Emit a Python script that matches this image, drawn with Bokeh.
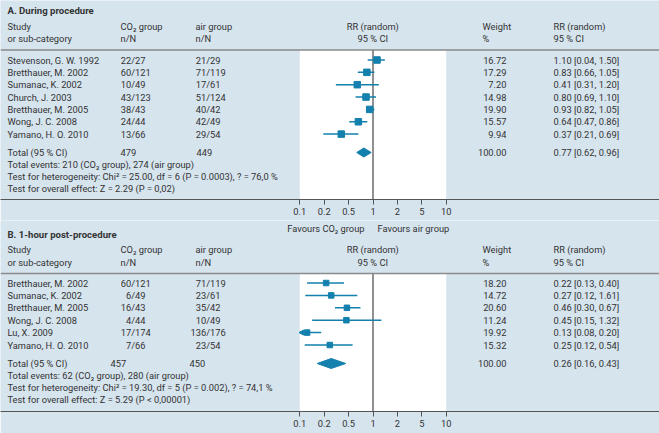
import numpy as np
from bokeh.plotting import figure
from bokeh.layouts import column
from bokeh.models import Range1d, FixedTicker, Span
from bokeh.core.properties import value
from bokeh.embed import file_html
from bokeh.resources import INLINE

# ---------------- data ----------------
tick_values = [0.1, 0.2, 0.5, 1, 2, 5, 10]
tick_labels = ["0.1", "0.2", "0.5", "1", "2", "5", "10"]

# A. During procedure
studies_a = ["Stevenson, G. W. 1992", "Bretthauer, M. 2002", "Sumanac, K. 2002",
             "Church, J. 2003", "Bretthauer, M. 2005", "Wong, J. C. 2008",
             "Yamano, H. O. 2010"]
co2_n_a = [22, 60, 10, 43, 38, 24, 13]
co2_N_a = [27, 121, 49, 123, 43, 44, 66]
air_n_a = [21, 71, 17, 51, 40, 42, 29]
air_N_a = [29, 119, 61, 124, 42, 49, 54]
weight_a = ["16.72", "17.29", "7.20", "14.98", "19.90", "15.57", "9.94"]
rr_text_a = ["1.10 [0.04,  1.50]", "0.83 [0.66,  1.05]", "0.41 [0.31,  1.20]",
             "0.80 [0.69,  1.10]", "0.93 [0.82,  1.05]", "0.64 [0.47,  0.86]",
             "0.37 [0.21,  0.69]"]
# plotted estimates / intervals as drawn in the picture
est_a = [1.12, 0.84, 0.64, 0.82, 0.91, 0.66, 0.38]
lo_a = [0.86, 0.65, 0.31, 0.61, 0.83, 0.51, 0.195]
hi_a = [1.40, 1.04, 1.18, 1.09, 1.04, 0.85, 0.66]
total_co2_a, total_air_a = "479", "449"
total_weight_a, total_rr_a = "100.00", "0.77 [0.62,  0.96]"
diamond_a = [0.63, 0.77, 0.95]
notes_a = ["Total events: 210 (CO\u2082 group), 274 (air group)",
           "Test for heterogeneity: Chi\u00b2 = 25.00, df = 6 (P = 0.0003), ? = 76,0 %",
           "Test for overall effect: Z = 2.29 (P = 0,02)"]

# B. 1-hour post-procedure
studies_b = ["Bretthauer, M. 2002", "Sumanac, K. 2002", "Bretthauer, M. 2005",
             "Wong, J. C. 2008", "Lu, X. 2009", "Yamano, H. O. 2010"]
co2_n_b = [60, 6, 16, 4, 17, 7]
co2_N_b = [121, 49, 43, 44, 174, 66]
air_n_b = [71, 23, 35, 10, 136, 23]
air_N_b = [119, 61, 42, 49, 176, 54]
weight_b = ["18.20", "14.72", "20.60", "11.24", "19.92", "15.32"]
rr_text_b = ["0.22 [0.13,  0.40]", "0.27 [0.12,  1.61]", "0.46 [0.30,  0.67]",
             "0.45 [0.15,  1.32]", "0.13 [0.08,  0.20]", "0.25 [0.12,  0.54]"]
est_b = [0.215, 0.26, 0.47, 0.46, 0.123, 0.247]
lo_b = [0.123, 0.117, 0.30, 0.142, 0.08, 0.115]
hi_b = [0.42, 0.64, 0.70, 1.27, 0.184, 0.56]
total_co2_b, total_air_b = "457", "450"
total_weight_b, total_rr_b = "100.00", "0.26 [0.16,  0.43]"
diamond_b = [0.164, 0.26, 0.45]
notes_b = ["Total events: 62 (CO\u2082 group), 280 (air group)",
           "Test for heterogeneity: Chi\u00b2 = 19.30, df = 5 (P = 0.002), ? = 74,1 %",
           "Test for overall effect: Z = 5.29 (P < 0,00001)"]

# ---------------- style / layout ----------------
BG = "#d6e4ee"
TXT = "#333333"
MARK = "#1380ad"
FONT = "Roboto"
FS = "9.3px"
W = 659
PX0, PPU = 299.3, 24.4   # pixel of first tick, pixels per tick step


def dx(px):
    return (px - PX0) / PPU


def to_idx(v):
    return np.interp(np.log10(np.asarray(v, dtype=float)),
                     np.log10(tick_values), np.arange(len(tick_values)))


def txt(p, xs, ys, texts, align="left", bold=False, size=FS):
    p.text(x=[dx(x) for x in xs], y=ys, text=texts,
           text_font=value(FONT), text_font_size=size,
           text_font_style="bold" if bold else "normal",
           text_color=TXT, text_align=align, text_baseline="middle")


def make_fig(height, ytop, ybot, border_bottom):
    p = figure(width=W, height=height, output_backend="svg", toolbar_location=None,
               x_range=Range1d(dx(0), dx(W)), y_range=Range1d(ybot, ytop),
               y_axis_location=None, min_border_left=0, min_border_right=0,
               min_border_top=0, min_border_bottom=border_bottom,
               background_fill_color=BG, border_fill_color=BG,
               outline_line_color=None)
    p.grid.visible = False
    ax = p.xaxis[0]
    ax.ticker = FixedTicker(ticks=list(range(len(tick_values))))
    ax.major_label_overrides = {i: l for i, l in enumerate(tick_labels)}
    ax.major_tick_in = 0
    ax.major_tick_out = 5
    ax.minor_tick_in = 0
    ax.minor_tick_out = 0
    ax.axis_line_color = "#555555"
    ax.axis_line_width = 1.2
    ax.major_tick_line_color = "#555555"
    ax.major_label_standoff = 3
    ax.major_label_text_font = FONT
    ax.major_label_text_font_size = FS
    ax.major_label_text_color = TXT
    return p


def section(p, heading, y_head, y_rule, y_bottom, row_y, studies, cn, cN, an, aN,
            weights, rrt, est, lo, hi, tot_c, tot_a, x_tot_c, x_tot_a, tot_w, tot_rr,
            diamond, y_total, notes, y_notes, sq_size, dia_h):
    # white plot area and line of no effect
    p.quad(left=[0], right=[len(tick_values) - 1], top=[y_rule], bottom=[y_bottom],
           fill_color="white", line_color=None)
    one = float(to_idx([1])[0])
    p.segment(x0=[one], x1=[one], y0=[y_rule], y1=[y_bottom],
              line_color="#222222", line_width=1)
    p.add_layout(Span(location=y_rule, dimension="width",
                      line_color="#8a8a8a", line_width=1.5))
    # headings
    txt(p, [7], [y_head], [heading], bold=True, size="9.6px")
    h1, h2 = y_rule - 24, y_rule - 11.5
    txt(p, [7, 120, 195, 482, 553], [h1] * 5,
        ["Study", "CO\u2082 group", "air group", "Weight", "RR (random)"])
    txt(p, [7, 120, 195, 482, 553], [h2] * 5,
        ["or sub-category", "n/N", "n/N", "%", "95 % CI"])
    txt(p, [372.3, 372.3], [h1, h2], ["RR (random)", "95 % CI"], align="center")
    # rows
    n = len(studies)
    txt(p, [7] * n, row_y, studies)
    txt(p, [130.7] * n, row_y, [f"{v}" for v in cn], align="right")
    txt(p, [130.7] * n, row_y, [f"/{v}" for v in cN])
    txt(p, [205.7] * n, row_y, [f"{v}" for v in an], align="right")
    txt(p, [205.7] * n, row_y, [f"/{v}" for v in aN])
    txt(p, [506] * n, row_y, weights, align="right")
    txt(p, [553] * n, row_y, rrt)
    # CI lines and squares
    lo_i, hi_i, est_i = to_idx(lo), to_idx(hi), to_idx(est)
    p.segment(x0=lo_i, x1=hi_i, y0=row_y, y1=row_y, line_color=MARK, line_width=1.5)
    p.scatter(x=est_i, y=row_y, marker="square", size=sq_size,
              fill_color=MARK, line_color=MARK)
    clipped = [i for i, v in enumerate(lo) if v < tick_values[0]]
    if clipped:
        p.scatter(x=[0.09] * len(clipped), y=[row_y[i] for i in clipped],
                  marker="triangle", angle=np.pi / 2, size=5,
                  fill_color=MARK, line_color=MARK)
    # total
    txt(p, [7, x_tot_c, x_tot_a], [y_total] * 3, ["Total (95 % CI)", tot_c, tot_a])
    txt(p, [506], [y_total], [tot_w], align="right")
    txt(p, [553], [y_total], [tot_rr])
    d = to_idx(diamond)
    p.patches(xs=[[d[0], d[1], d[2], d[1]]],
              ys=[[y_total, y_total - dia_h, y_total, y_total + dia_h]],
              fill_color=MARK, line_color=MARK)
    txt(p, [7] * len(notes), y_notes, notes)


# ---------------- figure A ----------------
pa = make_fig(220, 0, 199, 21)
rows_a = [59.5 + 12.35 * i for i in range(len(studies_a))]
section(pa, "A. During procedure", 10, 49.5, 199, rows_a, studies_a,
        co2_n_a, co2_N_a, air_n_a, air_N_a, weight_a, rr_text_a,
        est_a, lo_a, hi_a, total_co2_a, total_air_a, 120, 196,
        total_weight_a, total_rr_a, diamond_a, 152, notes_a, [164, 176, 188],
        6.5, 4.5)

# ---------------- figure B ----------------
pb = make_fig(213, 220, 411, 22)
txt(pb, [364], [228], ["Favours CO\u2082 group"], align="right")
txt(pb, [377], [228], ["Favours air group"])
rows_b = [282.5 + 12.4 * i for i in range(len(studies_b))]
section(pb, "B. 1-hour post-procedure", 234, 273, 411, rows_b, studies_b,
        co2_n_b, co2_N_b, air_n_b, air_N_b, weight_b, rr_text_b,
        est_b, lo_b, hi_b, total_co2_b, total_air_b, 110, 189,
        total_weight_b, total_rr_b, diamond_b, 363, notes_b, [375, 387, 399],
        5.5, 5)

layout = column(pa, pb, spacing=0)
with open("out.html", "w") as f:
    f.write(file_html(layout, INLINE))
